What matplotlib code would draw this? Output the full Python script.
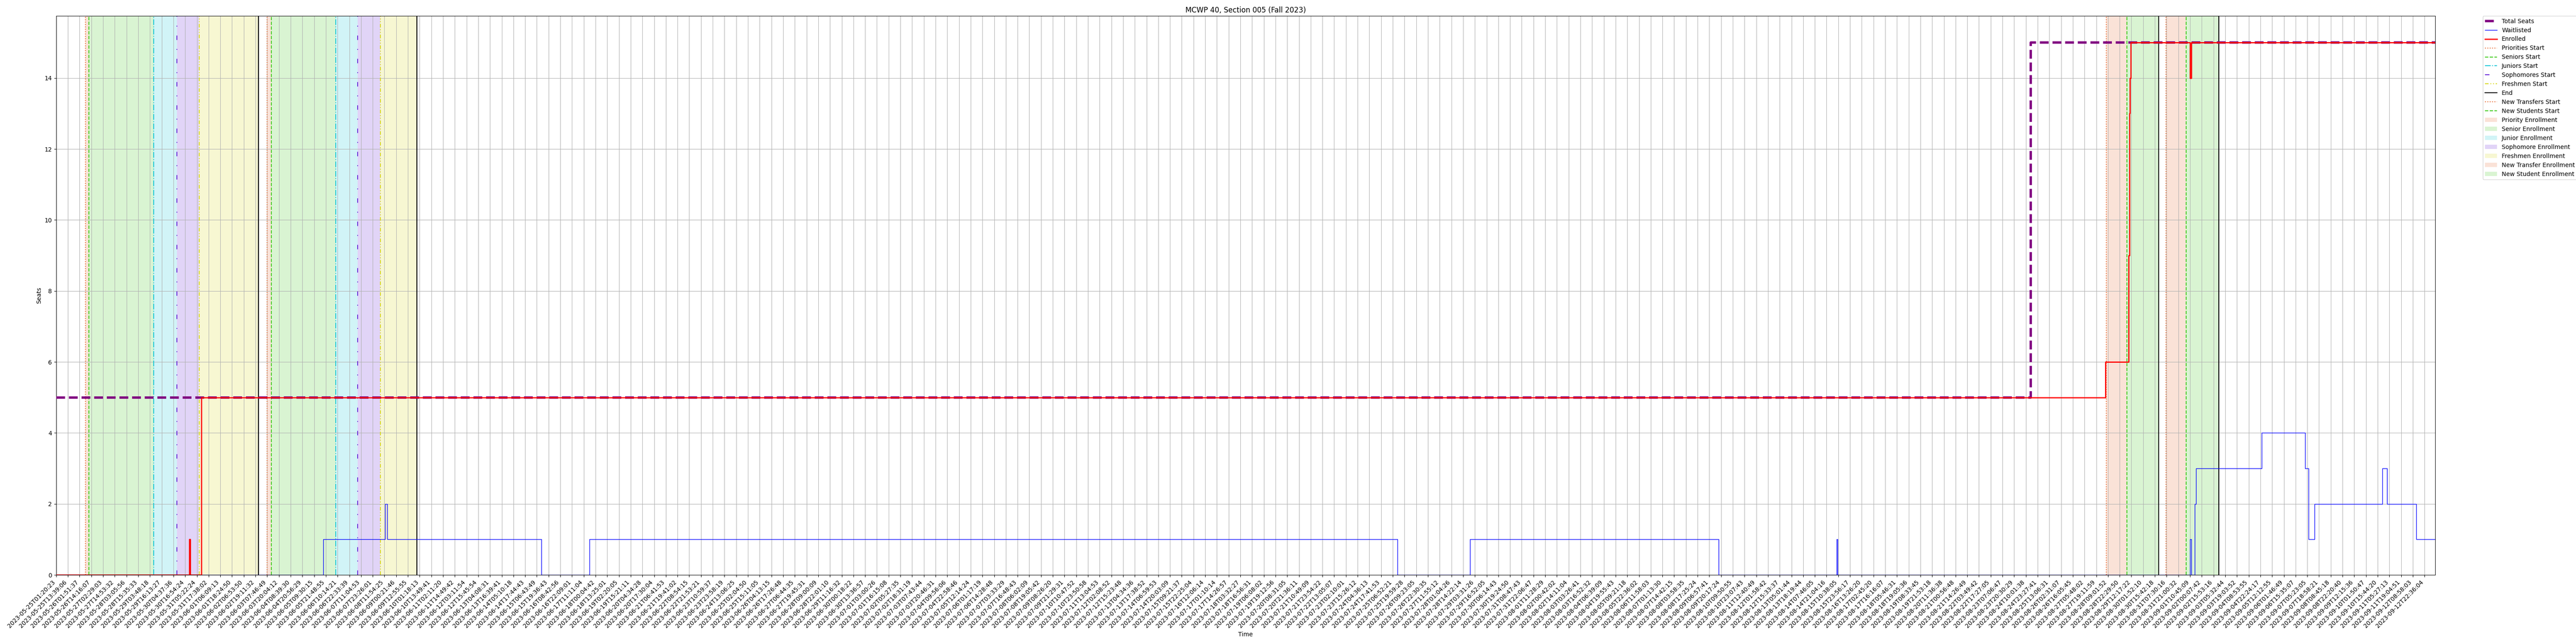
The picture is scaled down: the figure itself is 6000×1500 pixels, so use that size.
import matplotlib.pyplot as plt

# x axis is the sample index; one tick label every step of 1.0
tick_labels = [
    "2023-05-25T01:20:23", "2023-05-25T13:39:06", "2023-05-26T01:51:37", "2023-05-26T14:16:07",
    "2023-05-27T02:29:03", "2023-05-27T14:53:32", "2023-05-28T03:05:56", "2023-05-28T15:35:33",
    "2023-05-29T03:48:18", "2023-05-29T16:13:27", "2023-05-30T04:37:36", "2023-05-30T16:54:24",
    "2023-05-31T05:22:24", "2023-05-31T17:38:02", "2023-06-01T06:09:13", "2023-06-01T18:24:50",
    "2023-06-02T06:53:50", "2023-06-02T19:11:32", "2023-06-03T07:46:49", "2023-06-03T20:04:12",
    "2023-06-04T08:39:30", "2023-06-04T20:56:29", "2023-06-05T09:30:15", "2023-06-05T21:48:55",
    "2023-06-06T10:14:21", "2023-06-06T22:33:39", "2023-06-07T11:04:53", "2023-06-07T23:26:01",
    "2023-06-08T11:54:25", "2023-06-09T00:21:46", "2023-06-09T12:55:55", "2023-06-10T01:18:13",
    "2023-06-10T13:49:41", "2023-06-11T02:11:20", "2023-06-11T14:49:42", "2023-06-12T03:11:54",
    "2023-06-12T15:45:54", "2023-06-13T04:08:31", "2023-06-13T16:39:41", "2023-06-14T05:10:18",
    "2023-06-14T17:44:43", "2023-06-15T06:43:49", "2023-06-15T19:36:43", "2023-06-16T08:42:56",
    "2023-06-16T22:09:01", "2023-06-17T11:11:04", "2023-06-18T00:04:42", "2023-06-18T13:25:01",
    "2023-06-19T02:20:05", "2023-06-19T15:21:11", "2023-06-20T04:34:28", "2023-06-20T17:30:04",
    "2023-06-21T06:41:53", "2023-06-21T19:41:02", "2023-06-22T08:54:15", "2023-06-22T21:53:21",
    "2023-06-23T10:59:37", "2023-06-23T23:58:19", "2023-06-24T13:06:25", "2023-06-25T02:04:50",
    "2023-06-25T15:11:05", "2023-06-26T04:13:15", "2023-06-26T17:26:48", "2023-06-27T06:44:35",
    "2023-06-27T19:45:31", "2023-06-28T09:00:09", "2023-06-28T22:01:10", "2023-06-29T11:16:32",
    "2023-06-30T00:18:22", "2023-06-30T13:36:57", "2023-07-01T03:00:26", "2023-07-01T16:15:08",
    "2023-07-02T05:27:35", "2023-07-02T18:31:19", "2023-07-03T07:43:44", "2023-07-03T20:46:31",
    "2023-07-04T09:56:06", "2023-07-04T22:58:46", "2023-07-05T12:14:24", "2023-07-06T01:17:19",
    "2023-07-06T14:28:48", "2023-07-07T03:33:29", "2023-07-07T16:48:43", "2023-07-08T06:02:09",
    "2023-07-08T19:05:42", "2023-07-09T08:26:20", "2023-07-09T21:29:31", "2023-07-10T10:47:52",
    "2023-07-10T23:50:58", "2023-07-11T13:04:53", "2023-07-12T02:08:52", "2023-07-12T15:23:48",
    "2023-07-13T04:34:36", "2023-07-13T17:38:52", "2023-07-14T06:59:53", "2023-07-14T20:03:09",
    "2023-07-15T09:21:37", "2023-07-15T22:25:04", "2023-07-16T12:06:14", "2023-07-17T01:10:14",
    "2023-07-17T14:26:57", "2023-07-18T03:32:27", "2023-07-18T16:56:31", "2023-07-19T06:08:02",
    "2023-07-19T19:12:56", "2023-07-20T08:31:05", "2023-07-20T21:36:11", "2023-07-21T10:49:09",
    "2023-07-21T23:54:22", "2023-07-22T13:05:07", "2023-07-23T02:10:01", "2023-07-23T15:26:12",
    "2023-07-24T04:36:13", "2023-07-24T17:41:53", "2023-07-25T06:52:21", "2023-07-25T19:59:28",
    "2023-07-26T09:23:05", "2023-07-26T22:30:35", "2023-07-27T11:55:12", "2023-07-28T01:04:26",
    "2023-07-28T14:22:14", "2023-07-29T03:31:26", "2023-07-29T16:52:05", "2023-07-30T06:14:43",
    "2023-07-30T19:24:50", "2023-07-31T08:47:43", "2023-07-31T22:06:47", "2023-08-01T11:28:29",
    "2023-08-02T00:42:02", "2023-08-02T14:11:04", "2023-08-03T03:26:41", "2023-08-03T16:52:32",
    "2023-08-04T06:39:09", "2023-08-04T19:55:43", "2023-08-05T09:21:18", "2023-08-05T22:36:02",
    "2023-08-06T11:58:03", "2023-08-07T01:13:30", "2023-08-07T14:42:15", "2023-08-08T03:58:35",
    "2023-08-08T17:25:24", "2023-08-09T06:57:41", "2023-08-09T20:17:24", "2023-08-10T09:50:55",
    "2023-08-10T23:07:43", "2023-08-11T12:40:49", "2023-08-12T01:58:42", "2023-08-12T15:33:37",
    "2023-08-13T05:01:44", "2023-08-13T18:19:44", "2023-08-14T07:46:05", "2023-08-14T21:04:16",
    "2023-08-15T10:38:05", "2023-08-15T23:56:17", "2023-08-16T13:26:20", "2023-08-17T02:45:20",
    "2023-08-17T16:16:07", "2023-08-18T05:46:31", "2023-08-18T19:05:36", "2023-08-19T08:33:45",
    "2023-08-19T21:53:18", "2023-08-20T11:36:38", "2023-08-21T00:56:48", "2023-08-21T14:26:49",
    "2023-08-22T03:49:42", "2023-08-22T17:27:05", "2023-08-23T07:06:47", "2023-08-23T20:30:29",
    "2023-08-24T10:01:38", "2023-08-24T23:27:41", "2023-08-25T13:06:31", "2023-08-26T02:31:07",
    "2023-08-26T16:05:45", "2023-08-27T05:48:02", "2023-08-27T19:11:59", "2023-08-28T09:01:52",
    "2023-08-28T22:29:50", "2023-08-29T12:17:22", "2023-08-30T01:52:10", "2023-08-30T15:42:18",
    "2023-08-31T07:30:16", "2023-08-31T21:00:32", "2023-09-01T10:45:09", "2023-09-02T00:07:42",
    "2023-09-02T15:53:16", "2023-09-03T05:32:44", "2023-09-03T19:03:52", "2023-09-04T08:53:55",
    "2023-09-04T22:24:17", "2023-09-05T12:12:55", "2023-09-06T01:46:49", "2023-09-06T15:35:07",
    "2023-09-07T05:23:05", "2023-09-07T18:58:21", "2023-09-08T08:45:18", "2023-09-08T22:20:40",
    "2023-09-09T12:15:36", "2023-09-10T01:50:47", "2023-09-10T15:44:20", "2023-09-11T05:27:13",
    "2023-09-11T19:04:51", "2023-09-12T08:58:03", "2023-09-12T22:36:04",
]
x_last = 202.9

# step series: x where the value changes, value from that point on
seats_x = [0, 168.4, x_last]
seats_y = [5, 15, 15]

waitlist_x = [0, 22.8, 28.05, 28.25, 41.4, 45.5, 114.4, 120.6, 141.8, 151.85, 151.95,
              182.0, 182.1, 182.4, 182.5, 188.1, 191.8, 192.1, 192.6, 198.4, 198.8,
              201.3, x_last]
waitlist_y = [0, 1, 2, 1, 0, 1, 0, 1, 0, 1, 0,
              1, 0, 2, 3, 4, 3, 1, 2, 3, 2,
              1, 1]

enrolled_x = [0, 11.35, 11.45, 12.37, 174.8, 176.75, 176.82, 176.88, 176.94,
              182.0, 182.1, x_last]
enrolled_y = [0, 1, 0, 5, 6, 9, 13, 14, 15,
              14, 15, 15]

# enrollment phase boundaries (sample index)
priority_start = [2.48, 17.98]
senior_start = [2.79, 18.35]
junior_start = [8.32, 23.84]
sophomore_start = [10.28, 25.73]
freshmen_start = [12.21, 27.66]
phase_end = [17.24, 30.75]
transfer_start = [174.85, 179.94]
new_student_start = [176.6, 181.68]
new_end = [179.33, 184.45]

c_priority = "#e8703a"
c_senior = "#44cc22"
c_junior = "#1cc8d8"
c_soph = "#6a2ad8"
c_fresh = "#d8d820"

fig, ax = plt.subplots(figsize=(60, 15), dpi=100)

ax.step(seats_x, seats_y, where="post", color="purple", lw=4, ls="--", label="Total Seats", zorder=3)
ax.step(waitlist_x, waitlist_y, where="post", color="blue", lw=1, label="Waitlisted", zorder=3)
ax.step(enrolled_x, enrolled_y, where="post", color="red", lw=2, label="Enrolled", zorder=3)

line_specs = [
    (priority_start, c_priority, ":", "Priorities Start"),
    (senior_start, c_senior, "--", "Seniors Start"),
    (junior_start, c_junior, "-.", "Juniors Start"),
    (sophomore_start, c_soph, (0, (5, 10, 1, 10)), "Sophomores Start"),
    (freshmen_start, c_fresh, (0, (4, 2, 1, 2, 1, 2)), "Freshmen Start"),
    (phase_end + new_end, "black", "-", "End"),
    (transfer_start, c_priority, ":", "New Transfers Start"),
    (new_student_start, c_senior, "--", "New Students Start"),
]
for xs, col, ls, lab in line_specs:
    for i, xv in enumerate(xs):
        ax.axvline(xv, color=col, ls=ls, lw=1.5, label=lab if i == 0 else None)

span_specs = [
    (priority_start, senior_start, c_priority, "Priority Enrollment"),
    (senior_start, junior_start, c_senior, "Senior Enrollment"),
    (junior_start, sophomore_start, c_junior, "Junior Enrollment"),
    (sophomore_start, freshmen_start, c_soph, "Sophomore Enrollment"),
    (freshmen_start, phase_end, c_fresh, "Freshmen Enrollment"),
    (transfer_start, new_student_start, c_priority, "New Transfer Enrollment"),
    (new_student_start, new_end, c_senior, "New Student Enrollment"),
]
for starts, ends, col, lab in span_specs:
    for i, (a, b) in enumerate(zip(starts, ends)):
        ax.axvspan(a, b, color=col, alpha=0.2, lw=0, label=lab if i == 0 else None)

ax.set_xlim(0, x_last)
ax.set_ylim(0, 15.75)
ax.set_xticks(range(len(tick_labels)))
ax.set_xticklabels(tick_labels, rotation=45, ha="right")
ax.grid(True)
ax.set_title("MCWP 40, Section 005 (Fall 2023)")
ax.set_xlabel("Time")
ax.set_ylabel("Seats")
ax.legend(bbox_to_anchor=(1.02, 1), loc="upper left", borderaxespad=0.0)

fig.subplots_adjust(left=0.0218, right=0.9453, top=0.9753, bottom=0.1073)
fig.savefig("out.png", dpi=100)
